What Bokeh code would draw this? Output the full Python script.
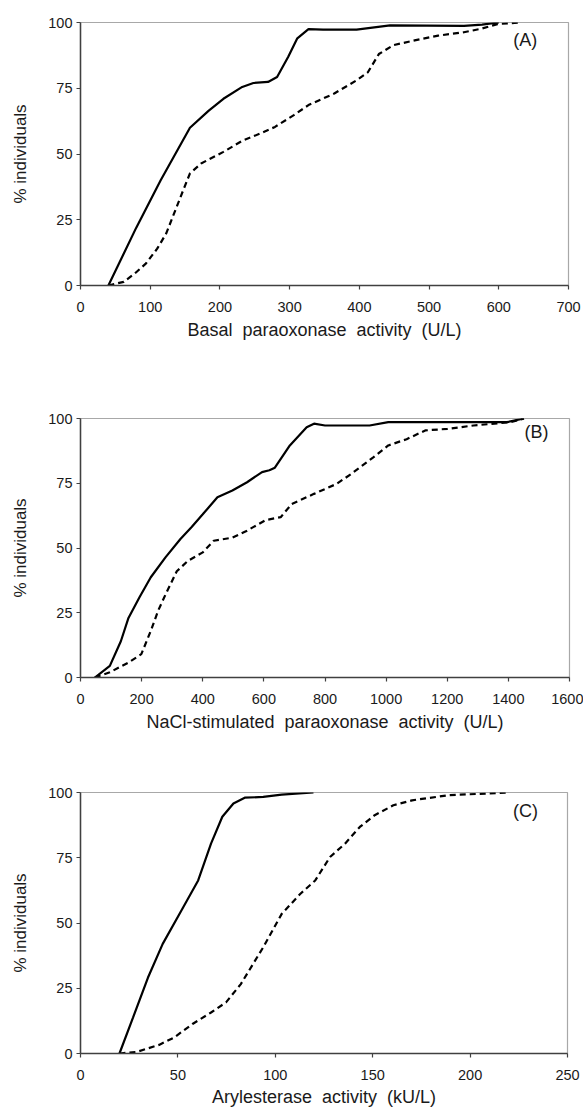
from bokeh.plotting import figure
from bokeh.layouts import column
from bokeh.models import FixedTicker, Range1d, Label
from bokeh.embed import file_html
from bokeh.resources import INLINE

# ---------------- data ----------------
# Panel A: basal paraoxonase activity (U/L)
a_solid_x = [40, 80, 115, 136, 157, 184, 205, 232, 248, 269, 282, 298, 311, 327, 348, 396, 444, 550, 576, 600]
a_solid_y = [0, 22, 40, 50, 60, 66.5, 71, 75.5, 77, 77.4, 79.3, 87, 94, 97.5, 97.3, 97.3, 98.9, 98.7, 99.2, 100]
a_dash_x = [40, 62, 78, 94, 110, 123, 136, 147, 157, 173, 205, 232, 258, 279, 306, 327, 364, 396, 412, 428,
            449, 481, 513, 550, 576, 598, 630]
a_dash_y = [0, 1.4, 4.6, 8.4, 14, 19.8, 28.6, 36, 42.6, 46.4, 50.8, 55, 57.8, 60.3, 64.8, 68.6, 73, 78, 81, 88,
            91.4, 93.3, 95, 96.3, 97.7, 99.4, 100]

# Panel B: NaCl-stimulated paraoxonase activity (U/L)
b_solid_x = [47, 96, 132, 157, 193, 230, 278, 327, 363, 400, 448, 497, 545, 594, 618, 636, 685, 740, 764, 800,
             946, 1007, 1396, 1451]
b_solid_y = [0, 4.5, 14, 23, 31, 38.7, 46.4, 53.5, 58, 63, 69.6, 72.2, 75.4, 79.3, 80, 81, 89.6, 96.6, 98, 97.3,
             97.3, 98.6, 98.6, 100]
b_dash_x = [47, 96, 157, 199, 230, 254, 278, 315, 351, 400, 436, 497, 545, 606, 655, 691, 764, 837, 886, 958,
            1007, 1067, 1128, 1201, 1286, 1408, 1451]
b_dash_y = [0, 2, 5.8, 9, 18, 25.8, 32, 41, 45, 48.3, 52.8, 54, 56.7, 60.8, 61.9, 67, 70.9, 74.7, 78.6, 85,
            89.6, 92, 95.4, 96, 97.3, 98.6, 100]

# Panel C: arylesterase activity (kU/L)
c_solid_x = [20, 27, 34.6, 42.2, 51.8, 60.4, 67, 72.8, 78.5, 84.3, 93.8, 103.3, 119.6]
c_solid_y = [0, 13.8, 29, 42, 54.8, 66.3, 80.4, 90.7, 95.8, 98, 98.3, 99.2, 100]
c_dash_x = [20, 28.8, 40.3, 48, 57.5, 67, 74.7, 82.3, 93.8, 103.3, 112.9, 120.5, 128.1, 135.8, 143.4, 151,
            160.6, 170.2, 189.3, 208.4, 219.8]
c_dash_y = [0, 0.6, 3.3, 6.1, 11.3, 15.7, 19.6, 26.6, 40.7, 53.5, 61.2, 66.3, 75.3, 80.4, 86.8, 91.3,
            95.1, 97, 99, 99.6, 100]

a_ticks = [0, 100, 200, 300, 400, 500, 600, 700]
b_ticks = [0, 200, 400, 600, 800, 1000, 1200, 1400, 1600]
c_ticks = [0, 50, 100, 150, 200, 250]
y_ticks = [0, 25, 50, 75, 100]

SP = " \u00a0"  # wide word gap as in the reference
a_title = SP.join(["Basal", "paraoxonase", "activity", "(U/L)"])
b_title = SP.join(["NaCl-stimulated", "paraoxonase", "activity", "(U/L)"])
c_title = SP.join(["Arylesterase", "activity", "(kU/L)"])
y_title = "% individuals"

FONT = "Liberation Sans"


def make_panel(sx, sy, dx, dy, xmax, xticks, xtitle, tag, tag_x, tag_y,
               fw, fh, bl, br, bt, bb, x_als):
    p = figure(frame_width=fw, frame_height=fh,
               x_range=Range1d(0, xmax), y_range=Range1d(0, 100),
               output_backend="svg", toolbar_location=None,
               min_border_left=bl, min_border_right=br,
               min_border_top=bt, min_border_bottom=bb,
               background_fill_color="white", border_fill_color="white")
    p.grid.visible = False
    p.outline_line_color = "#a8a8a8"
    p.outline_line_width = 1.2

    p.line(sx, sy, line_color="black", line_width=2.2)
    p.line(dx, dy, line_color="black", line_width=2.2, line_dash="6 4")

    for ax in (p.xaxis[0], p.yaxis[0]):
        ax.axis_line_color = "#404040"
        ax.axis_line_width = 1.5
        ax.major_tick_line_color = "#404040"
        ax.major_tick_line_width = 1.2
        ax.major_tick_out = 4
        ax.major_tick_in = 0
        ax.minor_tick_line_color = None
        ax.major_label_text_font = FONT
        ax.major_label_text_font_size = "14.5px"
        ax.major_label_text_color = "#1a1a1a"
        ax.axis_label_text_font = FONT
        ax.axis_label_text_font_style = "normal"
        ax.axis_label_text_color = "#1a1a1a"

    p.xaxis[0].axis_label_text_font_size = "18px"
    p.yaxis[0].axis_label_text_font_size = "17px"
    p.xaxis[0].ticker = FixedTicker(ticks=xticks)
    p.yaxis[0].ticker = FixedTicker(ticks=y_ticks)
    p.xaxis[0].axis_label = xtitle
    p.yaxis[0].axis_label = y_title
    p.xaxis[0].major_label_standoff = 12
    p.xaxis[0].axis_label_standoff = x_als
    p.yaxis[0].major_label_standoff = 4
    p.yaxis[0].axis_label_standoff = 15

    p.add_layout(Label(x=tag_x, y=tag_y, text=tag, text_font=FONT, text_font_size="18px",
                       text_align="center", text_baseline="middle", text_color="#1a1a1a"))
    return p


pA = make_panel(a_solid_x, a_solid_y, a_dash_x, a_dash_y, 700, a_ticks, a_title, "(A)", 638, 93.2,
                488, 263, 80, 14, 22, 93, 5)
pB = make_panel(b_solid_x, b_solid_y, b_dash_x, b_dash_y, 1600, b_ticks, b_title, "(B)", 1492, 94.6,
                489, 259, 71, 22, 40, 75, 5)
pC = make_panel(c_solid_x, c_solid_y, c_dash_x, c_dash_y, 250, c_ticks, c_title, "(C)", 228.4, 93.1,
                487, 261, 78, 17, 40, 57, 4)

layout = column(pA, pB, pC, spacing=0)

open("out.html", "w").write(file_html(layout, INLINE))
